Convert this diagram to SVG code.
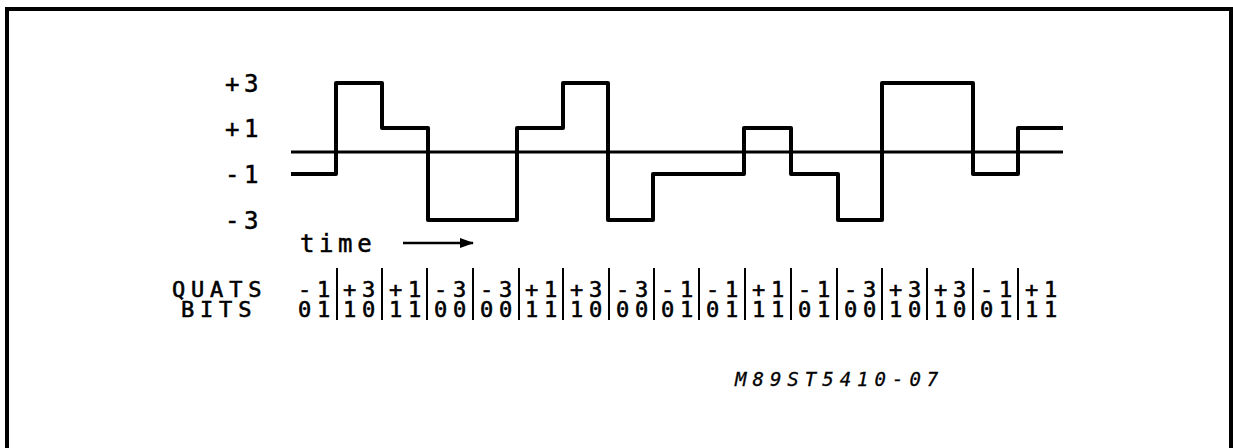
<svg xmlns="http://www.w3.org/2000/svg" width="1233" height="448" viewBox="0 0 1233 448">
<style>
.t{font-family:"DejaVu Sans Mono","Liberation Mono",monospace;font-size:24px;letter-spacing:4.6px;fill:#000;stroke:#000;stroke-width:0.5}
.s{font-family:"DejaVu Sans Mono","Liberation Mono",monospace;font-size:22px;letter-spacing:5.8px;fill:#000;stroke:#000;stroke-width:0.6}
.c{text-anchor:middle}
.note{font-family:"DejaVu Sans Mono","Liberation Mono",monospace;font-size:19px;font-style:italic;letter-spacing:6px;fill:#000;stroke:#000;stroke-width:0.3}
.sep{stroke:#000;stroke-width:2}
</style>
<defs>
<marker id="ah" markerWidth="14" markerHeight="10" refX="13" refY="5" orient="auto" markerUnits="userSpaceOnUse">
<path d="M0,0 L14,5 L0,10 z" fill="#000"/>
</marker>
</defs>
<rect width="1233" height="448" fill="#fff"/>
<path d="M7,460 V9 H1231 V460" fill="none" stroke="#000" stroke-width="4"/>
<g id="axis-labels">
<text class="t" x="225" y="92">+3</text>
<text class="t" x="225" y="137">+1</text>
<text class="t" x="225" y="183">-1</text>
<text class="t" x="225" y="229">-3</text>
<text class="t" x="300" y="252">time</text>
</g>
<g id="connectors">
<line x1="291" y1="152" x2="1063" y2="152" stroke="#000" stroke-width="3"/>
<path d="M291,174 H336 V83 H382 V128 H428 V220 H517 V128 H563 V83 H608 V220 H653 V174 H744 V128 H791 V174 H838 V220 H882 V83 H973 V174 H1018 V128 H1063" fill="none" stroke="#000" stroke-width="4" stroke-linejoin="round"/>
<line x1="403" y1="243" x2="473" y2="243" stroke="#000" stroke-width="2.5" marker-end="url(#ah)"/>
</g>
<g id="table">
<text class="s" x="172" y="297">QUATS</text>
<text class="s" x="181" y="317">BITS</text>
<g class="sep">
<line x1="337" y1="268" x2="337" y2="320"/>
<line x1="382" y1="268" x2="382" y2="320"/>
<line x1="427" y1="268" x2="427" y2="320"/>
<line x1="473" y1="268" x2="473" y2="320"/>
<line x1="519" y1="268" x2="519" y2="320"/>
<line x1="563" y1="268" x2="563" y2="320"/>
<line x1="609" y1="268" x2="609" y2="320"/>
<line x1="654" y1="268" x2="654" y2="320"/>
<line x1="699" y1="268" x2="699" y2="320"/>
<line x1="745" y1="268" x2="745" y2="320"/>
<line x1="791" y1="268" x2="791" y2="320"/>
<line x1="837" y1="268" x2="837" y2="320"/>
<line x1="882" y1="268" x2="882" y2="320"/>
<line x1="927" y1="268" x2="927" y2="320"/>
<line x1="973" y1="268" x2="973" y2="320"/>
<line x1="1018" y1="268" x2="1018" y2="320"/>
</g>
<g class="s c">
<text x="317" y="297">-1</text><text x="362" y="297">+3</text><text x="408" y="297">+1</text><text x="453" y="297">-3</text><text x="499" y="297">-3</text><text x="544" y="297">+1</text><text x="589" y="297">+3</text><text x="635" y="297">-3</text><text x="680" y="297">-1</text><text x="725" y="297">-1</text><text x="771" y="297">+1</text><text x="817" y="297">-1</text><text x="863" y="297">-3</text><text x="908" y="297">+3</text><text x="953" y="297">+3</text><text x="999" y="297">-1</text><text x="1044" y="297">+1</text>
<text x="317" y="317">01</text><text x="362" y="317">10</text><text x="408" y="317">11</text><text x="453" y="317">00</text><text x="499" y="317">00</text><text x="544" y="317">11</text><text x="589" y="317">10</text><text x="635" y="317">00</text><text x="680" y="317">01</text><text x="725" y="317">01</text><text x="771" y="317">11</text><text x="817" y="317">01</text><text x="863" y="317">00</text><text x="908" y="317">10</text><text x="953" y="317">10</text><text x="999" y="317">01</text><text x="1044" y="317">11</text>
</g>
</g>
<text class="note" x="735" y="386">M89ST5410-07</text>
</svg>
